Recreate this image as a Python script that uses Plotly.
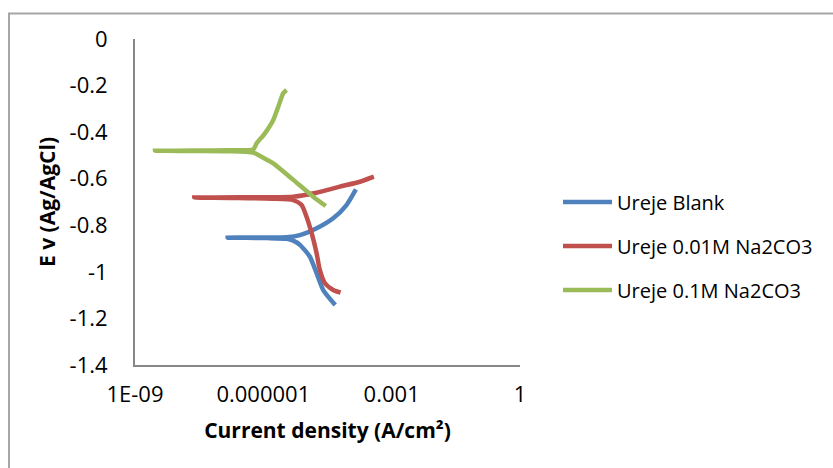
import plotly.graph_objects as go

# ---- data (current density A/cm2, potential V vs Ag/AgCl) ----
blank_i = [10**-4.32, 10**-4.60, 10**-4.755, 10**-4.911, 10**-5.145, 10**-5.30, 10**-5.456,
           10**-5.9, 10**-6.4, 10**-6.834,
           10**-6.4, 10**-5.9, 10**-5.456, 10**-5.145, 10**-4.755, 10**-4.367, 10**-4.056, 10**-3.836]
blank_e = [-1.142, -1.078, -1.006, -0.935, -0.884, -0.866, -0.858,
           -0.855, -0.854, -0.853,
           -0.852, -0.852, -0.851, -0.842, -0.813, -0.770, -0.713, -0.646]

na01_i = [10**-4.194, 10**-4.367, 10**-4.56, 10**-4.68, 10**-4.755, 10**-4.87, 10**-4.99, 10**-5.106,
          10**-5.30, 10**-5.8, 10**-6.6, 10**-7.614,
          10**-6.6, 10**-5.8, 10**-5.30, 10**-4.755, 10**-4.21, 10**-3.743, 10**-3.416]
na01_e = [-1.089, -1.078, -1.049, -0.992, -0.920, -0.834, -0.763, -0.713,
          -0.692, -0.686, -0.683, -0.681,
          -0.680, -0.680, -0.677, -0.660, -0.634, -0.613, -0.591]

na1_i = [10**-4.54, 10**-4.834, 10**-5.30, 10**-5.768, 10**-6.05, 10**-6.235,
         10**-6.8, 10**-7.6, 10**-8.533,
         10**-7.6, 10**-6.8, 10**-6.235, 10**-6.157, 10**-5.963, 10**-5.768, 10**-5.651, 10**-5.535, 10**-5.456]
na1_e = [-0.717, -0.677, -0.605, -0.534, -0.505, -0.488,
         -0.482, -0.481, -0.480,
         -0.479, -0.478, -0.474, -0.448, -0.405, -0.348, -0.291, -0.233, -0.219]

series_names = ["Ureje Blank", "Ureje 0.01M Na2CO3", "Ureje 0.1M Na2CO3"]
series_colors = ["#4F81BD", "#C0504D", "#9BBB59"]

x_tickvals = [1e-9, 1e-6, 1e-3, 1]
x_ticktext = ["1E-09", "0.000001", "0.001", "1"]
y_tickvals = [0, -0.2, -0.4, -0.6, -0.8, -1, -1.2, -1.4]
y_ticktext = ["0", "-0.2", "-0.4", "-0.6", "-0.8", "-1", "-1.2", "-1.4"]

FONT = "Open Sans"

fig = go.Figure()
for i, (xs, ys) in enumerate([(blank_i, blank_e), (na01_i, na01_e), (na1_i, na1_e)]):
    fig.add_trace(go.Scatter(
        x=xs, y=ys, mode="lines", name=series_names[i],
        legendgroup=f"g{i}",
        line=dict(color=series_colors[i], width=4.5, shape="spline", smoothing=0.6),
    ))

fig.update_layout(
    width=833, height=468,
    paper_bgcolor="white", plot_bgcolor="white",
    margin=dict(l=135, r=313, t=39, b=103),
    font=dict(family=FONT, color="#000000", size=21),
    showlegend=True,
    legend=dict(
        x=(558 - 135) / 385, y=0.56, xanchor="left", yanchor="top",
        font=dict(family=FONT, size=20, color="#000000"),
        tracegroupgap=15, itemwidth=49,
        bgcolor="rgba(0,0,0,0)",
    ),
    xaxis=dict(
        type="log", range=[-9, 0],
        tickvals=x_tickvals, ticktext=x_ticktext,
        showgrid=False, zeroline=False,
        showline=True, linecolor="#868686", linewidth=2,
        ticks="", ticklabelstandoff=9,
        tickfont=dict(family=FONT, size=22, color="#000000"),
        title=dict(text="<b>Current density (A/cm²)</b>", standoff=16,
                   font=dict(family=FONT, size=21, color="#000000")),
    ),
    yaxis=dict(
        range=[-1.4, 0],
        tickvals=y_tickvals, ticktext=y_ticktext,
        showgrid=False, zeroline=False,
        showline=True, linecolor="#868686", linewidth=2,
        ticks="", ticklabelstandoff=21,
        tickfont=dict(family=FONT, size=22, color="#000000"),
        title=dict(text="<b>E v (Ag/AgCl)</b>", standoff=8,
                   font=dict(family=FONT, size=21, color="#000000")),
    ),
    shapes=[dict(type="rect", xref="paper", yref="paper",
                 x0=(9 - 135) / 385, x1=2.0, y0=-1.0, y1=(365 - 13.5) / 326,
                 line=dict(color="#A6A6A6", width=2), fillcolor="rgba(0,0,0,0)", layer="below")],
)

fig.write_html("out.html", config={"displayModeBar": False},
               post_script="document.body.style.margin='0';document.body.style.overflow='hidden';")
